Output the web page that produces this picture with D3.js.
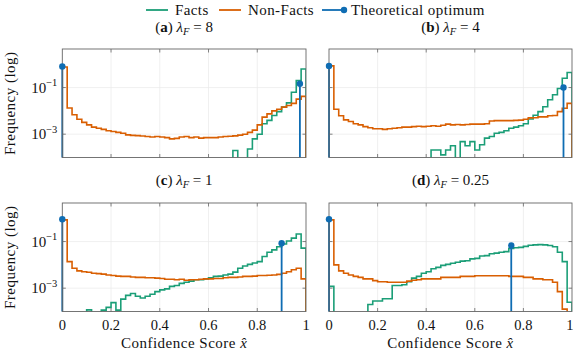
<!DOCTYPE html>
<html><head><meta charset="utf-8">
<script src="https://cdn.jsdelivr.net/npm/d3@7"></script>
<style>
body{margin:0;background:#fff}
svg{display:block}
text{font-family:"Liberation Serif","DejaVu Serif",serif;fill:#111}
</style>
</head><body>
<svg id="chart" width="574" height="355"></svg>
<script>
// ---------------- data (frequencies per bin of width 0.02, 50 bins on [0,1]; 0 = empty bin) -------------
const binWidth = 0.02;
const xTicks = [0, 0.2, 0.4, 0.6, 0.8, 1];
const xTickLabels = ["0", "0.2", "0.4", "0.6", "0.8", "1"];
const yTicks = [1e-1, 1e-3];
const yTickExponents = ["\u22121", "\u22123"];
const yDomain = [1e-4, 4.5];
const seriesNames = ["Facts", "Non-Facts", "Theoretical optimum"];
const panelLetters = ["a", "b", "c", "d"];
const lambdaValues = ["8", "4", "1", "0.25"];

const factsA = [0,0,0,0,0,0,0,0,0,0, 0,0,0,0,0,0,0,0,0,0, 0,0,0,0,0,0,0,0,0,0,
  0,0,0,0,0,0.00020,0,0,0.00023,0.00063, 0.0010,0.0028,0.0039,0.0063,0.0093,0.0145,0.022,0.063,0.20,0.62];
const nonFactsA = [0.76,0.0132,0.0068,0.0044,0.0032,0.0025,0.0020,0.0018,0.0016,0.0014,
  0.0013,0.0012,0.0011,0.00093,0.00089,0.00087,0.00083,0.00079,0.00076,0.00079,
  0.00076,0.00071,0.00063,0.00066,0.00076,0.00079,0.00071,0.00076,0.00068,0.00071,
  0.00071,0.00071,0.00076,0.00079,0.00081,0.00085,0.00091,0.0010,0.0012,0.0015,
  0.0025,0.0054,0.0074,0.010,0.0117,0.0145,0.017,0.021,0.032,0.042];
const optimumXA = [0, 0.975];
const optimumYA = [0.80, 0.145];

const factsB = [0,0,0,0,0,0,0,0,0,0, 0,0,0,0,0,0,0,0,0,0,
  0,0.00021,0.00021,0.00013,0.00021,0.00032,0,0.00048,0.00032,0.00048,
  0.00021,0.00035,0.00068,0.00079,0.0011,0.0012,0.0014,0.0018,0.0020,0.0023,
  0.0028,0.0045,0.0065,0.0093,0.015,0.030,0.049,0.091,0.25,0.44];
const nonFactsB = [0.85,0.0117,0.0062,0.0041,0.0035,0.0028,0.0025,0.0021,0.0019,0.0017,
  0.0017,0.0016,0.0017,0.0018,0.0019,0.0020,0.0020,0.0021,0.0022,0.0021,
  0.0022,0.0023,0.0022,0.0024,0.0027,0.0025,0.0026,0.0025,0.0026,0.0027,
  0.0027,0.0027,0.0028,0.0037,0.0038,0.0038,0.0038,0.0038,0.0039,0.0040,
  0.0044,0.0050,0.0051,0.0055,0.0055,0.0062,0.0063,0.0093,0.0129,0.021];
const optimumXB = [0, 0.965];
const optimumYB = [0.85, 0.10];

const factsC = [0,0,0,0,0,0.000117,0,0,0.000115,0.00015,
  0.00024,0.000115,0.00034,0.00049,0.00059,0.00045,0.00038,0.00045,0.00055,0.00071,
  0.00085,0.00093,0.0012,0.0013,0.0016,0.0018,0.0020,0.0023,0.0023,0.0025,
  0.0028,0.0032,0.0033,0.0037,0.0040,0.0049,0.0072,0.0089,0.0105,0.012,
  0.0138,0.023,0.035,0.044,0.060,0.079,0.105,0.14,0.21,0.052];
const nonFactsC = [0.85,0.0138,0.0072,0.0055,0.0051,0.0048,0.0044,0.0042,0.0040,0.0037,
  0.0035,0.0033,0.0032,0.0032,0.0030,0.0029,0.0029,0.0028,0.0028,0.0027,
  0.0026,0.0024,0.0024,0.0023,0.0024,0.0022,0.0023,0.0023,0.0024,0.0025,
  0.0025,0.0026,0.0026,0.0028,0.0029,0.0029,0.0030,0.0032,0.0032,0.0033,
  0.0035,0.0035,0.0036,0.0037,0.0039,0.0044,0.0051,0.0062,0.0072,0.0025];
const optimumXC = [0, 0.9];
const optimumYC = [0.91, 0.085];

const factsD = [0.0012,0,0,0,0,0,0,0,0.00020,0.00028,
  0.00028,0.00035,0.00035,0.0013,0.0013,0.0014,0.0019,0.0027,0.0032,0.0044,
  0.0051,0.0068,0.0078,0.0095,0.0105,0.0117,0.0129,0.0145,0.015,0.018,
  0.019,0.024,0.025,0.030,0.032,0.035,0.037,0.050,0.054,0.056,
  0.062,0.069,0.072,0.074,0.072,0.068,0.060,0.035,0.0138,0.00025];
const nonFactsD = [0.85,0.010,0.0055,0.0044,0.0037,0.0032,0.0029,0.0025,0.0025,0.0021,
  0.0019,0.0019,0.0018,0.0018,0.0018,0.0018,0.0020,0.0022,0.0023,0.0025,
  0.0025,0.0025,0.0025,0.0029,0.0029,0.0029,0.0029,0.0032,0.0032,0.0032,
  0.0034,0.0034,0.0034,0.0034,0.0034,0.0034,0.0034,0.0032,0.0032,0.0032,
  0.0029,0.0029,0.0025,0.0025,0.0023,0.0023,0.0018,0.00071,0.000126,0];
const optimumXD = [0, 0.75];
const optimumYD = [0.91, 0.068];

// ---------------- layout & style ----------------
const colors = {facts:"#1b9e77", nonFacts:"#d95f02", opt:"#0f6db3"};
const panelBoxes = [
  {x0:62.3, x1:306, y0:49,  y1:157.5},
  {x0:329,  x1:572, y0:49,  y1:157.5},
  {x0:62.3, x1:306, y0:203, y1:311.5},
  {x0:329,  x1:572, y0:203, y1:311.5}
];
const panels = [
  {facts:factsA, nonFacts:nonFactsA, ox:optimumXA, oy:optimumYA},
  {facts:factsB, nonFacts:nonFactsB, ox:optimumXB, oy:optimumYB},
  {facts:factsC, nonFacts:nonFactsC, ox:optimumXC, oy:optimumYC},
  {facts:factsD, nonFacts:nonFactsD, ox:optimumXD, oy:optimumYD}
];

const svg = d3.select("#chart");
const defs = svg.append("defs");
const frameColor = "#666666";
const fsLabel = 15;
const W = 574;

panels.forEach((p, i) => {
  const b = panelBoxes[i];
  const x = d3.scaleLinear().domain([0,1]).range([b.x0, b.x1]);
  const y = d3.scaleLog().domain(yDomain).range([b.y1, b.y0]);
  const g = svg.append("g");
  const clipId = "clip" + i;
  defs.append("clipPath").attr("id", clipId).append("rect")
    .attr("x", b.x0).attr("y", b.y0).attr("width", b.x1-b.x0).attr("height", b.y1-b.y0);

  // grid
  g.append("g").selectAll("line").data(xTicks.slice(1,-1)).join("line")
    .attr("x1", d=>x(d)).attr("x2", d=>x(d)).attr("y1", b.y0).attr("y2", b.y1)
    .attr("stroke", "#e9e9e9").attr("stroke-width", 0.7);
  g.append("g").selectAll("line").data(yTicks).join("line")
    .attr("x1", b.x0).attr("x2", b.x1).attr("y1", d=>y(d)).attr("y2", d=>y(d))
    .attr("stroke", "#e9e9e9").attr("stroke-width", 0.7);

  // step histograms
  const below = b.y1 + 6;
  const stepPath = vals => {
    const yv = v => v > 0 ? y(v) : below;
    let d = `M${x(0)},${below}`;
    vals.forEach((v, k) => {
      d += `L${x(k*binWidth)},${yv(v)}L${x((k+1)*binWidth)},${yv(v)}`;
    });
    d += `L${x(1)},${below}`;
    return d;
  };
  const plot = g.append("g").attr("clip-path", `url(#${clipId})`);
  plot.append("path").attr("d", stepPath(p.facts)).attr("fill","none")
    .attr("stroke", colors.facts).attr("stroke-width", 1.6).attr("stroke-linejoin","miter");
  plot.append("path").attr("d", stepPath(p.nonFacts)).attr("fill","none")
    .attr("stroke", colors.nonFacts).attr("stroke-width", 1.6).attr("stroke-linejoin","miter");

  // theoretical optimum stems
  const opt = p.ox.map((xv, k) => ({x:xv, y:p.oy[k]}));
  g.append("g").selectAll("line").data(opt).join("line")
    .attr("x1", d=>x(d.x)).attr("x2", d=>x(d.x)).attr("y1", b.y1).attr("y2", d=>y(d.y))
    .attr("stroke", colors.opt).attr("stroke-width", 1.8);

  // frame + ticks
  g.append("rect").attr("x", b.x0).attr("y", b.y0).attr("width", b.x1-b.x0).attr("height", b.y1-b.y0)
    .attr("fill","none").attr("stroke", frameColor).attr("stroke-width", 0.9);
  const tl = 3.5;
  g.append("g").selectAll("path").data(xTicks.slice(1,-1)).join("path")
    .attr("d", d=>`M${x(d)},${b.y1}v${-tl}M${x(d)},${b.y0}v${tl}`)
    .attr("stroke", frameColor).attr("stroke-width", 0.8);
  g.append("g").selectAll("path").data(yTicks).join("path")
    .attr("d", d=>`M${b.x0},${y(d)}h${tl}M${b.x1},${y(d)}h${-tl}`)
    .attr("stroke", frameColor).attr("stroke-width", 0.8);

  g.append("g").selectAll("circle").data(opt).join("circle")
    .attr("cx", d=>x(d.x)).attr("cy", d=>y(d.y)).attr("r", 3.2).attr("fill", colors.opt);

  // y tick labels (left column only)
  if (i % 2 === 0) {
    yTicks.forEach((t, k) => {
      const tx = g.append("text").attr("x", b.x0 - 5).attr("y", y(t) + 5)
        .attr("text-anchor","end").attr("font-size", 15);
      tx.append("tspan").text("10");
      tx.append("tspan").attr("dy", -6.5).attr("font-size", 10.5).text(yTickExponents[k]);
    });
    const cy = (b.y0 + b.y1) / 2;
    g.append("text").attr("transform", `translate(15,${cy}) rotate(-90)`)
      .attr("text-anchor","middle").attr("font-size", fsLabel).attr("letter-spacing", 0.5)
      .text("Frequency (log)");
  }
  // x tick labels (bottom row only)
  if (i >= 2) {
    g.append("g").selectAll("text").data(xTicks).join("text")
      .attr("x", d=>x(d)).attr("y", b.y1 + 18).attr("text-anchor","middle").attr("font-size", 14.5)
      .text((d,k)=>xTickLabels[k])
      .each(function() {
        const bb = this.getBBox();
        if (bb.x + bb.width > W - 0.5) {
          d3.select(this).attr("x", +d3.select(this).attr("x") - (bb.x + bb.width - (W - 0.5)));
        }
      });
    const lab = g.append("text").attr("x", (b.x0+b.x1)/2).attr("y", b.y1 + 36)
      .attr("text-anchor","middle").attr("font-size", fsLabel).attr("letter-spacing", 0.5);
    lab.append("tspan").text("Confidence Score ");
    lab.append("tspan").attr("font-style","italic").text("x\u0302");
  }
  // panel title
  const ty = i < 2 ? 32 : 185;
  const title = g.append("text").attr("x", (b.x0+b.x1)/2).attr("y", ty)
    .attr("text-anchor","middle").attr("font-size", fsLabel);
  title.append("tspan").text("(");
  title.append("tspan").attr("font-weight","bold").text(panelLetters[i]);
  title.append("tspan").text(") ");
  title.append("tspan").attr("font-style","italic").text("\u03bb");
  title.append("tspan").attr("font-style","italic").attr("font-size", 10.5).attr("dy", 3).text("F");
  title.append("tspan").attr("dy", -3).text(" = " + lambdaValues[i]);
});

// legend
const leg = svg.append("g");
const legendItems = [
  {name:seriesNames[0], color:colors.facts, x:146, dot:false},
  {name:seriesNames[1], color:colors.nonFacts, x:219, dot:false},
  {name:seriesNames[2], color:colors.opt, x:322, dot:true}
];
legendItems.forEach(it => {
  leg.append("line").attr("x1", it.x).attr("x2", it.x + 22).attr("y1", 10).attr("y2", 10)
    .attr("stroke", it.color).attr("stroke-width", 1.8);
  if (it.dot) leg.append("circle").attr("cx", it.x + 22).attr("cy", 10).attr("r", 3.2).attr("fill", it.color);
  leg.append("text").attr("x", it.x + 29).attr("y", 14.5).attr("font-size", fsLabel)
    .attr("letter-spacing", 0.4).text(it.name);
});
</script>
</body></html>
